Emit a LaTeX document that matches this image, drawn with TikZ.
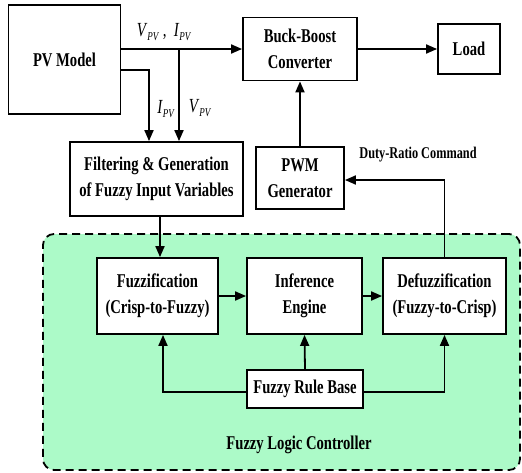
\documentclass[tikz,border=0pt]{standalone}
\usepackage{fontspec}
\setmainfont{Liberation Serif}[FakeStretch=0.75]
\usetikzlibrary{arrows.meta,calc}
\definecolor{flcgreen}{RGB}{172,250,200}
\newcommand{\pvsub}[1]{\textit{#1}\raisebox{-0.35ex}{\fontsize{12}{12}\selectfont\textit{PV}}}
\begin{document}
\begin{tikzpicture}[x=1pt,y=-1pt,
  blk/.style={draw,line width=1.8pt,fill=white,align=center,inner sep=0pt,
    font=\fontsize{19.5}{26}\selectfont\bfseries},
  arr/.style={line width=1.8pt,-{Triangle[length=11pt,width=9pt]}},
  lbl/.style={inner sep=0pt,font=\fontsize{20}{22}\selectfont}]
\useasboundingbox (0,0) rectangle (522,472);
% fuzzy logic controller region
\node[draw,dashed,dash pattern=on 8pt off 5pt,line width=1.8pt,fill=flcgreen,
  rounded corners=11pt,minimum width=477pt,minimum height=236pt,inner sep=0pt]
  (flc) at (281.5,352) {};
\node[inner sep=0pt,font=\fontsize{19.5}{26}\selectfont\bfseries] (flclbl) at (299,445) {Fuzzy Logic Controller};
% blocks
\node[blk,minimum width=112pt,minimum height=109pt] (pv) at (64.5,59.5) {PV Model};
\node[blk,minimum width=114pt,minimum height=63pt] (buck) at (300,49) {Buck-Boost\\Converter};
\node[blk,minimum width=62pt,minimum height=50pt] (load) at (469,49) {Load};
\node[blk,minimum width=88pt,minimum height=62pt] (pwm) at (300,178) {PWM\\Generator};
\node[blk,minimum width=173pt,minimum height=74pt] (filt) at (156.5,179) {Filtering \& Generation\\of Fuzzy Input Variables};
\node[blk,minimum width=121pt,minimum height=76pt] (fuzz) at (157.5,296) {Fuzzification\\(Crisp-to-Fuzzy)};
\node[blk,minimum width=115pt,minimum height=76pt] (inf) at (304.5,296) {Inference\\Engine};
\node[blk,minimum width=123pt,minimum height=76pt] (defz) at (444.5,296) {Defuzzification\\(Fuzzy-to-Crisp)};
\node[blk,minimum width=116pt,minimum height=38pt] (rule) at (305,389) {Fuzzy Rule Base};
% labels
\node[lbl] (lvi) at (164,32) {\pvsub{V} ,\, \pvsub{I}};
\node[lbl] (li) at (166,109) {\pvsub{I}};
\node[lbl] (lv) at (200,108) {\pvsub{V}};
\node[inner sep=0pt,font=\fontsize{16.4}{18}\selectfont\bfseries] (duty) at (418,155) {Duty-Ratio Command};
% helper coordinates
\coordinate (b1) at (179,49);
\coordinate (b2) at (149,70);
% connectors
\draw[arr] (pv.east |- buck.west) -- (buck.west);
\draw[arr] (b1) -- (b1 |- filt.north);
\draw[arr] (pv.east |- b2) -- (b2) -- (b2 |- filt.north);
\draw[arr] (buck.east) -- (load.west);
\draw[arr] (pwm.north) -- (buck.south);
\draw[arr] (defz.north) |- ([yshift=-2pt]pwm.east);
\draw[arr] (filt.south -| 160,0) -- (fuzz.north -| 160,0);
\draw[arr] (fuzz.east) -- (inf.west);
\draw[arr] (inf.east) -- (defz.west);
\draw[arr] (rule.north) -- (inf.south);
\draw[arr] ([yshift=-3pt]rule.west) -| ([xshift=5.5pt]fuzz.south);
\draw[arr] ([yshift=-3pt]rule.east) -| (defz.south);
\end{tikzpicture}
\end{document}
